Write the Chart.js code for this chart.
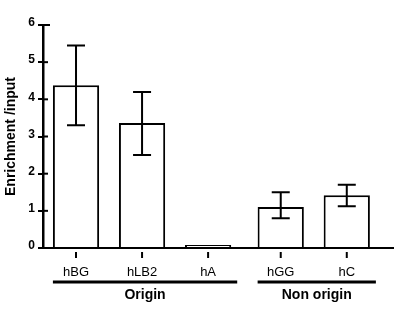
<!DOCTYPE html>
<html>
<head>
<meta charset="utf-8">
<script src="https://cdn.jsdelivr.net/npm/chart.js@4.4.1/dist/chart.umd.min.js"></script>
<style>
  html, body { margin: 0; padding: 0; background: #fff; }
  #wrap { width: 404px; height: 312px; }
</style>
</head>
<body>
<div id="wrap"><canvas id="enrichChart" width="404" height="312"></canvas></div>
<script>
// values
const categories = ['hBG', 'hLB2', 'hA', 'hGG', 'hC'];
const enrichment = [4.38, 3.36, 0.08, 1.1, 1.42];
const errHigh = [5.45, 4.2, null, 1.5, 1.7];
const errLow = [3.3, 2.5, null, 0.8, 1.12];
const groupNames = ['Origin', 'Non origin'];
const groupOf = [0, 0, 0, 1, 1];
const yTicks = [0, 1, 2, 3, 4, 5, 6];

// bar slots: one per category, small extra gap between the two groups
const slots = categories.map((c, i) => i + groupOf[i] * 0.1);

const FONT = "'Liberation Sans', Arial, sans-serif";

const extrasPlugin = {
    id: 'extras',
    afterDatasetsDraw(chart) {
        const ctx = chart.ctx;
        const x = chart.scales.x;
        const y = chart.scales.y;
        const area = chart.chartArea;
        const meta = chart.getDatasetMeta(0);
        ctx.save();
        ctx.strokeStyle = '#000';
        ctx.fillStyle = '#000';

        // error bars
        ctx.lineWidth = 2;
        categories.forEach((c, i) => {
            if (errHigh[i] == null) return;
            const cx = x.getPixelForValue(slots[i]);
            const top = y.getPixelForValue(errHigh[i]);
            const bot = y.getPixelForValue(errLow[i]);
            ctx.beginPath();
            ctx.moveTo(cx, top); ctx.lineTo(cx, bot);
            ctx.moveTo(cx - 9, top); ctx.lineTo(cx + 9, top);
            ctx.moveTo(cx - 9, bot); ctx.lineTo(cx + 9, bot);
            ctx.stroke();
        });

        // y ticks poke into the plot a little
        yTicks.forEach(v => {
            const py = y.getPixelForValue(v);
            ctx.beginPath();
            ctx.moveTo(area.left, py);
            ctx.lineTo(area.left + (v === 6 ? 7 : 5), py);
            ctx.stroke();
        });

        // small ticks under each bar
        categories.forEach((c, i) => {
            const cx = x.getPixelForValue(slots[i]);
            ctx.beginPath();
            ctx.moveTo(cx, area.bottom + 4);
            ctx.lineTo(cx, area.bottom + 10);
            ctx.stroke();
        });

        // group underlines and names
        ctx.lineWidth = 3;
        ctx.font = 'bold 14px ' + FONT;
        ctx.textAlign = 'center';
        ctx.textBaseline = 'middle';
        groupNames.forEach((g, gi) => {
            const idx = groupOf.map((v, i) => v === gi ? i : -1).filter(i => i >= 0);
            const first = meta.data[idx[0]];
            const last = meta.data[idx[idx.length - 1]];
            const left = first.x - first.width / 2;
            const right = last.x + last.width / 2 + 6;
            const ly = area.bottom + 34;
            ctx.beginPath();
            ctx.moveTo(left, ly);
            ctx.lineTo(right, ly);
            ctx.stroke();
            ctx.fillText(g, (left + right) / 2, ly + 13);
        });
        ctx.restore();
    }
};

const ctx = document.getElementById('enrichChart').getContext('2d');
new Chart(ctx, {
    type: 'bar',
    data: {
        datasets: [{
            label: 'Enrichment /input',
            data: categories.map((c, i) => ({ x: slots[i], y: enrichment[i] })),
            backgroundColor: '#fff',
            borderColor: '#000',
            borderWidth: 2,
            barPercentage: 0.7,
            categoryPercentage: 1
        }]
    },
    options: {
        responsive: false,
        animation: false,
        layout: { padding: { top: 25, right: 11, bottom: 0, left: 0 } },
        plugins: {
            legend: { display: false },
            tooltip: { enabled: false }
        },
        scales: {
            x: {
                type: 'linear',
                offset: false,
                min: -0.5,
                max: 4.8,
                afterBuildTicks: scale => { scale.ticks = slots.map(v => ({ value: v })); },
                afterFit: scale => { scale.height = 64; },
                ticks: {
                    autoSkip: false,
                    maxRotation: 0,
                    padding: 17,
                    color: '#000',
                    font: { family: FONT, size: 13 },
                    callback: (v, i) => categories[i]
                },
                grid: { drawOnChartArea: false, drawTicks: false, color: 'rgba(0,0,0,0)' },
                border: { display: true, color: '#000', width: 2 }
            },
            y: {
                min: 0,
                max: 6,
                afterBuildTicks: scale => { scale.ticks = yTicks.map(v => ({ value: v })); },
                afterFit: scale => { scale.width = 43; },
                ticks: {
                    padding: 3,
                    labelOffset: -2,
                    color: '#000',
                    font: { family: FONT, size: 12, weight: 'bold' }
                },
                grid: { drawOnChartArea: false, tickLength: 5, color: '#000', lineWidth: 2 },
                border: { display: true, color: '#000', width: 2.5 },
                title: {
                    display: true,
                    text: 'Enrichment /input',
                    color: '#000',
                    padding: { top: 3, bottom: 0 },
                    font: { family: FONT, size: 14, weight: 'bold' }
                }
            }
        }
    },
    plugins: [extrasPlugin]
});
</script>
</body>
</html>
